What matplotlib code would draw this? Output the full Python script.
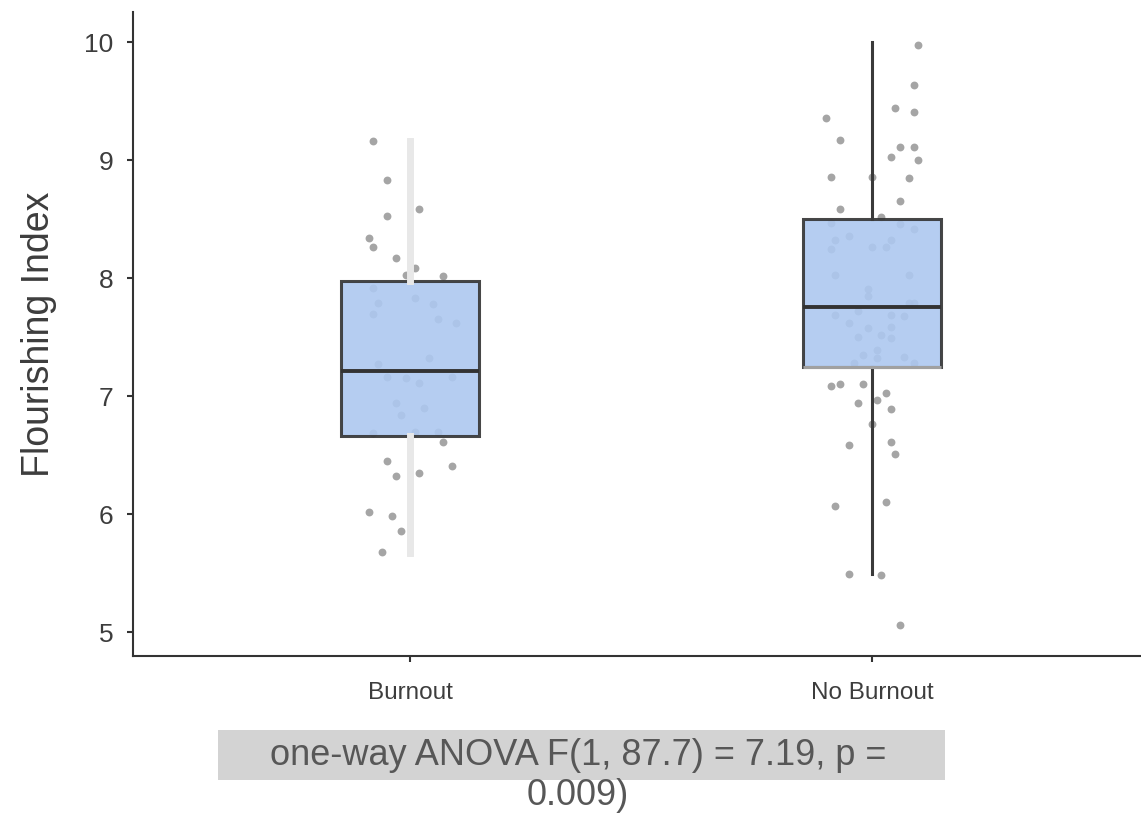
import numpy as np
import matplotlib
matplotlib.use('Agg')
import matplotlib.pyplot as plt
from matplotlib.patches import Rectangle

# Data
groups = ['Burnout', 'No Burnout']
box_q1 = [6.66, 7.245]
box_med = [7.21, 7.755]
box_q3 = [7.975, 8.505]
whis_lo = [5.67, 5.49]
whis_hi = [9.165, 10.0]

burnout_dx = [-0.08, -0.05, 0.02, -0.05, -0.09, -0.08, -0.03, 0.01, -0.01, 0.07,
              -0.08, 0.01, -0.07, -0.08, 0.05, 0.06, 0.10, 0.04, -0.07, -0.05,
              -0.01, 0.02, 0.09, -0.03, 0.03, -0.02, -0.08, 0.01, 0.06, 0.07,
              -0.05, -0.03, 0.02, 0.09, -0.09, -0.04, -0.02, -0.06]
burnout_y = [9.16, 8.83, 8.59, 8.53, 8.34, 8.26, 8.17, 8.09, 8.03, 8.02,
             7.92, 7.83, 7.79, 7.70, 7.78, 7.65, 7.62, 7.32, 7.27, 7.16,
             7.15, 7.11, 7.16, 6.94, 6.90, 6.84, 6.69, 6.70, 6.70, 6.61,
             6.45, 6.32, 6.35, 6.41, 6.02, 5.98, 5.86, 5.68]

noburn_dx = [0.10, 0.09, 0.05, 0.09, -0.10, -0.07, 0.06, 0.09, 0.04, 0.10,
             -0.09, 0.00, 0.08, 0.06, -0.07, 0.02, -0.09, 0.06, 0.09, -0.05,
             -0.08, -0.09, 0.04, 0.03, 0.00, -0.08, 0.08, -0.01, -0.01, 0.08,
             0.09, -0.08, -0.03, 0.04, 0.07, -0.05, -0.01, 0.04, -0.03, 0.02,
             0.04, 0.01, -0.02, 0.07, -0.04, 0.09, 0.01, -0.09, -0.07, -0.02,
             0.03, -0.03, 0.01, 0.04, 0.00, -0.05, 0.04, 0.05, -0.08, 0.03,
             -0.05, 0.02, 0.06]
noburn_y = [9.98, 9.64, 9.44, 9.41, 9.36, 9.17, 9.11, 9.11, 9.03, 9.00,
            8.86, 8.86, 8.85, 8.65, 8.59, 8.52, 8.47, 8.46, 8.42, 8.36,
            8.32, 8.25, 8.32, 8.26, 8.26, 8.03, 8.03, 7.91, 7.85, 7.79,
            7.79, 7.69, 7.72, 7.69, 7.68, 7.62, 7.58, 7.59, 7.50, 7.52,
            7.49, 7.39, 7.35, 7.33, 7.28, 7.28, 7.32, 7.09, 7.10, 7.10,
            7.03, 6.94, 6.97, 6.89, 6.76, 6.59, 6.61, 6.51, 6.07, 6.10,
            5.49, 5.48, 5.06]

caption_1 = 'one-way ANOVA F(1, 87.7) = 7.19, p ='
caption_2 = '0.009)'

txt_font = ['Liberation Sans', 'DejaVu Sans']
txt_col = '#3d3d3d'
dark = '#333333'
box_fill = '#adc8f0'


def main():
    plt.rcParams['font.family'] = txt_font
    fig = plt.figure(figsize=(11.41, 8.15), dpi=100)
    ax = fig.add_axes([0.1166, 0.195, 0.8834, 0.790])

    # jittered points under the boxes
    ax.scatter(np.array(burnout_dx) + 0, burnout_y, s=32, color='#8f8f8f',
               alpha=0.8, linewidths=0, zorder=1)
    ax.scatter(np.array(noburn_dx) + 1, noburn_y, s=32, color='#8f8f8f',
               alpha=0.8, linewidths=0, zorder=1)

    stats = []
    for i in range(len(groups)):
        stats.append({'q1': box_q1[i], 'med': box_med[i], 'q3': box_q3[i],
                      'whislo': whis_lo[i], 'whishi': whis_hi[i], 'fliers': []})

    boxprops = dict(facecolor=box_fill, edgecolor=dark, linewidth=2.2, alpha=0.9)
    medprops = dict(color=dark, linewidth=2.8)

    # Burnout (pale whisker)
    ax.bxp([stats[0]], positions=[0], widths=0.3, patch_artist=True,
           showcaps=False, boxprops=boxprops, medianprops=medprops,
           whiskerprops=dict(color='#e8e8e8', linewidth=5), zorder=2)
    # No Burnout (dark whisker)
    ax.bxp([stats[1]], positions=[1], widths=0.3, patch_artist=True,
           showcaps=False, boxprops=boxprops, medianprops=medprops,
           whiskerprops=dict(color='#3a3a3a', linewidth=2.2), zorder=2)
    ax.hlines(box_q1[1], 1 - 0.15, 1 + 0.15, color='#a0a0a0', linewidth=2.2, zorder=3)

    ax.set_xlim(-0.6, 1.582)
    ax.set_ylim(4.797, 10.254)
    ax.set_xticks([0, 1])
    ax.set_xticklabels(groups)
    ax.set_yticks([5, 6, 7, 8, 9, 10])
    ax.set_ylabel('Flourishing Index', fontsize=27, color=txt_col, labelpad=20)

    ax.tick_params(axis='both', colors=dark, labelcolor=txt_col, labelsize=19,
                   width=1.5, length=4)
    ax.tick_params(axis='x', pad=15, labelsize=17.5)
    ax.tick_params(axis='y', pad=10)
    for side in ['top', 'right']:
        ax.spines[side].set_visible(False)
    for side in ['left', 'bottom']:
        ax.spines[side].set_color(dark)
        ax.spines[side].set_linewidth(1.5)

    # caption with grey band behind first line
    fig.patches.append(Rectangle((0.191, 0.043), 0.637, 0.061, transform=fig.transFigure,
                                 facecolor='#d3d3d3', edgecolor='none', zorder=0))
    fig.text(0.5066, 0.0736, caption_1, ha='center', va='center', fontsize=26, color='#575757')
    fig.text(0.5066, 0.0245, caption_2, ha='center', va='center', fontsize=26, color='#575757')

    fig.savefig('out.png', dpi=100)


if __name__ == '__main__':
    main()
